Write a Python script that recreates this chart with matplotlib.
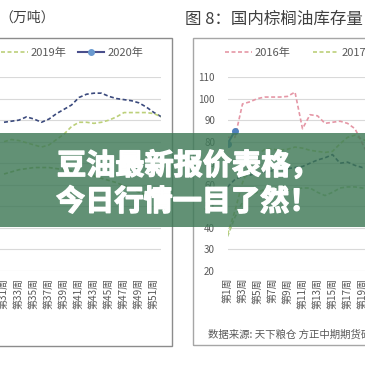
import matplotlib
matplotlib.use("Agg")
import matplotlib.pyplot as plt
import matplotlib.patheffects as pe
from matplotlib.lines import Line2D
from matplotlib.patches import Rectangle

plt.rcParams['font.family'] = ['Noto Sans CJK SC', 'DejaVu Sans']

# left chart: soybean oil stocks, only weeks 31-52 are visible in the crop
left_weeks = list(range(31, 53))
left_navy = [138, 139, 140, 143, 141, 138, 141, 146, 150, 154, 161, 164,
             165, 165, 162, 160, 159, 158, 156, 152, 147, 143]
left_2019 = [120, 122, 121, 119, 117, 115, 117, 122, 127, 134, 138, 138,
             137, 138, 140, 143, 147, 147, 147, 147, 146, 143]
left_green = [90, 92, 94, 95, 96, 96, 96, 95, 94, 93, 92, 90,
              88, 86, 84, 82, 79, 76, 73, 71, 70, 68]
left_ticks = list(range(1, 53, 2))
left_tick_labels = [f"第{w}周" for w in left_ticks]
left_yticks = list(range(0, 181, 20))

# right chart: palm oil stocks, weeks 1-20
right_weeks = list(range(1, 21))
palm_2016 = [82, 82, 97.5, 98.5, 100, 100.7, 100.7, 100.7, 101, 103,
             86, 92.5, 92, 88.5, 89, 89.5, 88.5, 86, 79, 72]
palm_2017 = [37, 48, 61, 69, 74, 76.5, 76.5, 76, 76.5, 77.5,
             77, 76, 75.5, 75, 75.5, 79, 82, 83, 81, 80]
palm_navy = [59, 62.5, 64, 64.5, 65.5, 66, 66.5, 67, 67.5, 68,
             68.5, 70, 71.5, 72.5, 74, 70, 70.5, 69, 68, 68.5]
palm_green = [36, 45, 52, 55, 56.5, 58, 58.5, 58, 57.5, 58,
              58.5, 58.5, 56.5, 55, 56.5, 58.5, 59, 59, 58.5, 58]
palm_2020_weeks = [1, 2]
palm_2020 = [79, 85]
right_ticks = list(range(1, 53, 2))
right_tick_labels = [f"第{w}周" for w in right_ticks]
right_yticks = list(range(20, 111, 10))

W = H = 365
def fx(px): return px / W
def fy(py): return 1 - py / H

DASH = (0, (2.4, 1.5))
GREY = '#595959'

fig = plt.figure(figsize=(3.65, 3.65), dpi=100)
fig.patch.set_facecolor('white')

ax1 = fig.add_axes([fx(-3.5), fy(271), 165 / W, 194 / H])
ax2 = fig.add_axes([fx(227.5), fy(271), 150 / W, 194 / H])

def style(ax):
    ax.set_facecolor('none')
    for s in ax.spines.values():
        s.set_visible(False)
    ax.yaxis.grid(True, color='#d9d9d9', lw=0.8)
    ax.set_axisbelow(True)
    ax.tick_params(length=0, colors=GREY)

# left
style(ax1)
ax1.plot(left_weeks, left_green, color='#9cb86a', lw=1.2, ls=DASH)
ax1.plot(left_weeks, left_navy, color='#3b4a7d', lw=1.2, ls=DASH)
l2019, = ax1.plot(left_weeks, left_2019, color='#bcd07a', lw=1.2, ls=DASH, label='2019年')
ax1.set_yticks(left_yticks)
ax1.tick_params(axis='y', labelleft=False)
ax1.set_xticks(left_ticks)
ax1.set_xticklabels(left_tick_labels, rotation=90, fontsize=7.2, va='top', ha='center')
ax1.tick_params(axis='x', pad=5)
ax1.set_xlim(30, 52)
ax1.set_ylim(0, 180)
proxy_2020 = Line2D([], [], color='#4a4f8c', lw=1.5, marker='o', ms=4,
                    mfc='#6a9ad0', mec='#6a9ad0', label='2020年')
ax1.legend(handles=[l2019, proxy_2020], ncol=2, frameon=False, loc='center right',
           bbox_to_anchor=(fx(143), fy(53)), bbox_transform=fig.transFigure,
           borderpad=0, borderaxespad=0, handlelength=2.4, handletextpad=0.25,
           columnspacing=1.0, fontsize=8, labelcolor=GREY)

# right
style(ax2)
ax2.plot(right_weeks, palm_green, color='#a9c98a', lw=1.2, ls=DASH)
ax2.plot(right_weeks, palm_navy, color='#2f3f6f', lw=1.2, ls=DASH)
p2017, = ax2.plot(right_weeks, palm_2017, color='#bcd07a', lw=1.2, ls=DASH, label='2017年')
p2016, = ax2.plot(right_weeks, palm_2016, color='#e597a6', lw=1.2, ls=DASH, label='2016年')
ax2.plot(palm_2020_weeks, palm_2020, color='#3c6eb4', lw=1.5, marker='o', ms=4,
         mfc='#4f81bd', mec='#4f81bd')
ax2.set_yticks(right_yticks)
ax2.tick_params(axis='y', labelsize=7, pad=9)
ax2.set_xticks(right_ticks)
ax2.set_xticklabels(right_tick_labels, rotation=90, fontsize=7.2, va='top', ha='center')
ax2.tick_params(axis='x', pad=5)
ax2.set_xlim(1, 21)
ax2.set_ylim(20, 110)
ax2.legend(handles=[p2016, p2017], ncol=2, frameon=False, loc='center left',
           bbox_to_anchor=(fx(225), fy(53)), bbox_transform=fig.transFigure,
           borderpad=0, borderaxespad=0, handlelength=2.4, handletextpad=0.25,
           columnspacing=2.0, fontsize=8, labelcolor=GREY)

# chart frames and titles
fig.add_artist(Rectangle((fx(-5), fy(346)), 177 / W, 308 / H, transform=fig.transFigure,
                         fill=False, ec='#8c8c8c', lw=1, zorder=-1))
fig.add_artist(Rectangle((fx(193), fy(345)), 180 / W, 307 / H, transform=fig.transFigure,
                         fill=False, ec='#a6a6a6', lw=1, zorder=-1))
fig.text(fx(-1), fy(18), "（万吨）", fontsize=10, color='#404040', va='center', ha='left')
fig.text(fx(185), fy(19.5), "图 8：国内棕榈油库存量", fontsize=11.9, color='#404040',
         va='center', ha='left')
fig.text(fx(208), fy(335), "数据来源: 天下粮仓 方正中期期货研究院", fontsize=7.5, color=GREY,
         va='center', ha='left')

# green banner with headline
fig.add_artist(Rectangle((0, fy(227)), 1, 94 / H, transform=fig.transFigure,
                         fc='#3f7957', ec='none', alpha=0.82, zorder=5))
thick = [pe.withStroke(linewidth=1.0, foreground='white')]
fig.text(fx(57), fy(165.5), "豆油最新报价表格，", fontsize=21, fontweight='heavy',
         color='white', va='center', ha='left', zorder=6, path_effects=thick)
fig.text(fx(56), fy(201.5), "今日行情一目了然！", fontsize=21, fontweight='heavy',
         color='white', va='center', ha='left', zorder=6, path_effects=thick)

fig.savefig('out.png', dpi=100)
